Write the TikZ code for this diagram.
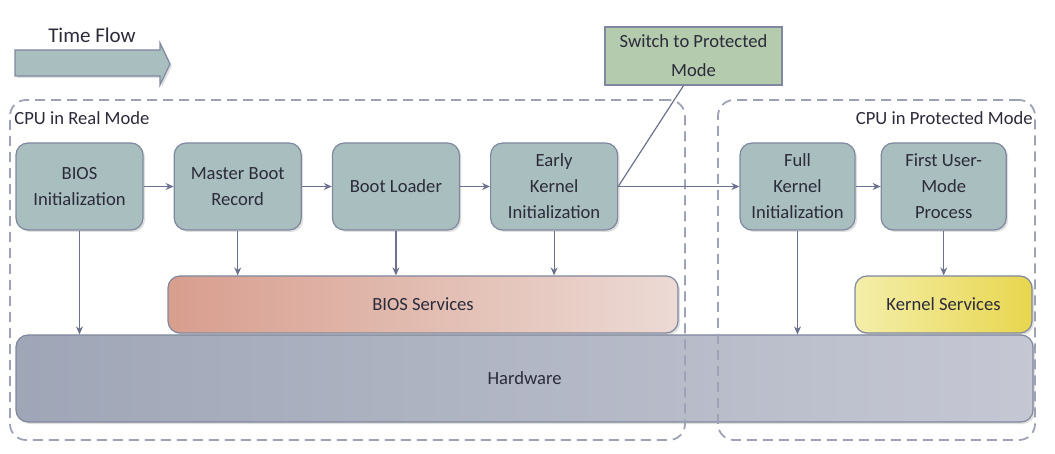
\documentclass[tikz,border=0pt]{standalone}
\usepackage{fontspec}
\setmainfont{Carlito}
\usetikzlibrary{arrows.meta,calc,positioning,shadows}

\definecolor{stagefill}{HTML}{A9BEBF}
\definecolor{stageline}{HTML}{7F889E}
\definecolor{switchfill}{HTML}{B4CBAE}
\definecolor{regionline}{HTML}{9EA2B6}
\definecolor{flowline}{HTML}{6B718E}
\definecolor{inktext}{HTML}{2B2B3A}

\begin{document}
\begin{tikzpicture}[x=0.5pt, y=-0.5pt, node distance=15pt,
    every node/.style={font=\fontsize{9.3}{13}\selectfont, text=inktext},
    stage/.style={rectangle, draw=stageline, line width=0.6pt, fill=stagefill, rounded corners=6pt,
        minimum width=63.5pt, minimum height=43.5pt, align=center, inner sep=0pt,
        drop shadow={opacity=0.25, shadow xshift=1pt, shadow yshift=-1pt}},
    layer/.style={rectangle, draw=stageline, line width=0.6pt, rounded corners=6pt,
        minimum height=28.5pt, inner sep=0pt,
        drop shadow={opacity=0.25, shadow xshift=1pt, shadow yshift=-1pt}},
    region/.style={rectangle, draw=regionline, line width=0.9pt, dash pattern=on 5pt off 3pt,
        rounded corners=8pt, minimum height=170pt, inner sep=0pt},
    flow/.style={draw=flowline, line width=0.6pt, -{Stealth[length=4pt,width=3.5pt]}}]

    \useasboundingbox (0,0) rectangle (1055,454);

    % time flow banner
    \node (timetext) at (92,35) {\fontsize{10.5}{13}\selectfont Time Flow};
    \draw[draw=stageline, line width=0.6pt, fill=stagefill, drop shadow={opacity=0.25, shadow xshift=1pt, shadow yshift=-1pt}]
        (15,50) -- (160,50) -- (160,43) -- (170,64) -- (160,85) -- (160,76) -- (15,76) -- cycle;

    % lower layers
    \node[layer, minimum width=508.5pt, minimum height=43.5pt, left color=stageline!75!white, right color=regionline!60!white] (hw) at (524.5,378.5) {Hardware};
    \node[layer, minimum width=255pt, left color={rgb,255:red,216;green,158;blue,142}, right color={rgb,255:red,236;green,218;blue,212}] (bioss) at (423,304.5) {BIOS Services};
    \node[layer, minimum width=88.5pt, left color={rgb,255:red,244;green,238;blue,170}, right color={rgb,255:red,232;green,214;blue,78}] (kserv) at (943.5,304.5) {Kernel Services};

    % boot stages
    \node[stage] (bios) at (79.5,186.5) {BIOS\\Initialization};
    \node[stage, right=of bios] (mbr) {Master Boot\\Record};
    \node[stage, right=of mbr] (loader) {Boot Loader};
    \node[stage, right=of loader] (early) {Early\\Kernel\\Initialization};
    \node[stage, minimum width=57.5pt] (fullk) at (797.5,186.5) {Full\\Kernel\\Initialization};
    \node[stage, minimum width=62.5pt, right=12.5pt of fullk] (user) {First User-\\Mode\\Process};

    \node[rectangle, draw=stageline, line width=0.6pt, fill=switchfill, minimum width=88.5pt, minimum height=29pt,
        align=center, inner sep=0pt, font=\fontsize{9.3}{14.5}\selectfont] (switch) at (693.5,56) {Switch to Protected\\Mode};

    % cpu modes
    \node[region, minimum width=337.5pt] (realmode) at (347.5,270) {};
    \node[region, minimum width=158.5pt] (protmode) at (876.5,270) {};
    \node[anchor=west, inner sep=0pt] (reallabel) at (14,118) {CPU in Real Mode};
    \node[anchor=east, inner sep=0pt] (protlabel) at (1033,118) {CPU in Protected Mode};

    \draw[flow] (bios) -- (mbr);
    \draw[flow] (mbr) -- (loader);
    \draw[flow] (loader) -- (early);
    \draw[flow] (early) -- (fullk);
    \draw[flow] (fullk) -- (user);
    \draw[draw=flowline, line width=0.6pt] (early.east) -- ([xshift=-5pt]switch.south);
    \draw[flow] (bios.south) -- (bios.south |- hw.north);
    \draw[flow] (mbr.south) -- (mbr.south |- bioss.north);
    \draw[flow] (loader.south) -- (loader.south |- bioss.north);
    \draw[flow] (early.south) -- (early.south |- bioss.north);
    \draw[flow] (fullk.south) -- (fullk.south |- hw.north);
    \draw[flow] (user.south) -- (user.south |- kserv.north);
\end{tikzpicture}
\end{document}
